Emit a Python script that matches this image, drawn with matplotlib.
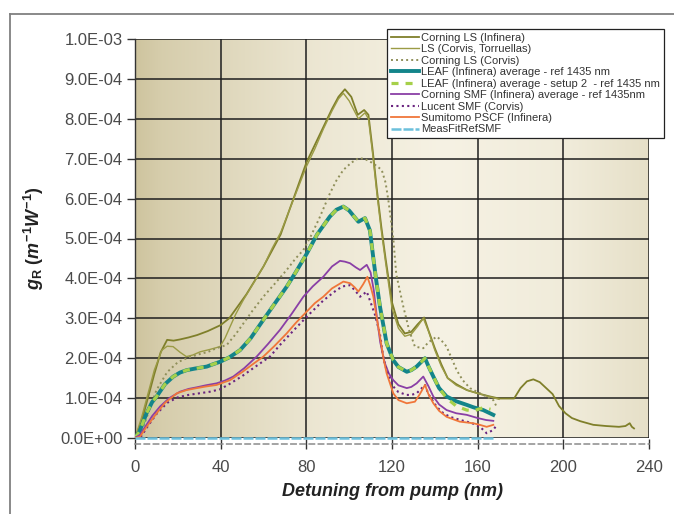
import numpy as np
import matplotlib
matplotlib.use("Agg")
import matplotlib.pyplot as plt
from matplotlib import font_manager
from matplotlib.lines import Line2D
from matplotlib.ticker import FuncFormatter, MultipleLocator

# ---------------- data (gR in units of 1E-4 m^-1 W^-1) ----------------
corning_ls_inf = [(0,0),(3,0.4),(6,1.0),(9,1.6),(12,2.15),(15,2.46),(18,2.44),(21,2.47),(25,2.52),
    (29,2.58),(34,2.68),(40,2.83),(44,3.0),(48,3.3),(52,3.6),(56,3.95),(60,4.3),(64,4.7),(68,5.1),
    (72,5.7),(76,6.3),(80,6.9),(84,7.35),(88,7.8),(92,8.25),(95,8.55),(98,8.74),(101,8.55),(104,8.1),
    (107,8.22),(109,8.1),(111,7.2),(113,6.2),(115,5.3),(117,4.5),(120,3.4),(123,2.85),(126,2.62),
    (129,2.66),(132,2.85),(135,3.02),(137,2.7),(140,2.25),(143,1.85),(146,1.5),(150,1.35),(155,1.2),
    (160,1.12),(165,1.05),(170,0.99),(177,0.99),(180,1.25),(183,1.42),(186,1.47),(189,1.4),(192,1.25),
    (195,1.1),(198,0.8),(201,0.62),(204,0.5),(208,0.42),(214,0.33),(220,0.3),(226,0.28),(229,0.3),
    (231,0.37),(232,0.28),(233,0.24)]
ls_corvis_torruellas = [(0,0),(3,0.5),(6,1.1),(9,1.7),(12.5,2.2),(15,2.3),(17.8,2.29),(21,2.15),(24,2.04),
    (27,2.08),(30.4,2.16),(35,2.22),(39.7,2.29),(42,2.5),(44.4,2.79),(47,3.1),(50.6,3.46),(55,3.85),
    (59.9,4.29),(64,4.75),(68,5.15),(72,5.7),(76,6.25),(80,6.8),(84,7.25),(88,7.75),(92,8.2),(95,8.5),
    (97.3,8.64),(100,8.45),(104.3,8.0),(107.4,8.15),(109,8.0),(111,7.1),(113,6.1),(115,5.2),(117,4.4),
    (120,3.25),(123,2.75),(126,2.55),(129,2.6),(132,2.8),(134.6,3.0),(137,2.68),(140,2.2),(143,1.8),
    (146,1.5),(150,1.32),(155,1.2),(160,1.12),(165,1.04),(170,0.97)]
corning_ls_corvis = [(0,0),(3,0.15),(6,0.6),(10,1.2),(15,1.65),(20,1.9),(25,2.02),(30,2.1),(34.2,2.16),
    (38,2.25),(42.8,2.33),(47,2.6),(51,2.9),(55,3.2),(59.9,3.54),(65,3.85),(70.8,4.21),(75,4.5),
    (78.6,4.71),(82,5.05),(86,5.5),(91,6.13),(94,6.45),(97.3,6.72),(101,6.9),(104.3,7.01),(107,7.0),
    (109.7,6.93),(112,6.85),(115.2,6.72),(117,6.4),(118.3,5.96),(120.6,5.0),(122,4.1),(125.3,3.29),
    (128,2.7),(130.7,2.29),(134.6,2.25),(137,2.4),(140.9,2.54),(143,2.45),(145.5,2.29),(150.2,1.7),
    (153,1.45),(156.4,1.25),(162.6,1.08),(167.3,0.95),(168.9,0.78)]
leaf_inf = [(0,0),(2,0.15),(5.4,0.62),(8,0.9),(10.1,1.04),(14,1.35),(17.9,1.54),(21,1.64),(24.1,1.7),
    (28,1.74),(33.5,1.79),(36,1.84),(39.7,1.91),(44,2.02),(49,2.2),(54,2.5),(59.9,2.96),(65,3.35),
    (70.8,3.79),(75,4.15),(80.2,4.62),(85,5.1),(91,5.55),(94,5.72),(97.3,5.8),(100,5.7),(104.3,5.42),
    (107.4,5.51),(109.7,5.2),(111.3,4.5),(112.5,4.0),(114.4,3.29),(117.5,2.37),(120.6,1.95),(123,1.78),
    (126.9,1.66),(129,1.7),(131.5,1.79),(135.4,2.0),(137,1.8),(139.3,1.54),(142,1.25),(145.5,1.04),
    (150,0.92),(154.9,0.83),(158,0.77),(162.6,0.70),(167.3,0.58)]
leaf_inf_setup2 = [(0,0),(2,0.15),(5.4,0.62),(8,0.9),(10.1,1.04),(14,1.35),(17.9,1.54),(21,1.64),(24.1,1.7),
    (28,1.74),(33.5,1.79),(36,1.84),(39.7,1.91),(44,2.02),(49,2.2),(54,2.5),(59.9,2.96),(65,3.35),
    (70.8,3.79),(75,4.15),(80.2,4.62),(85,5.1),(91,5.55),(94,5.72),(97.3,5.8),(100,5.7),(104.3,5.42),
    (107.4,5.51),(109.7,5.2),(111.3,4.5),(112.5,4.0),(114.4,3.29),(117.5,2.37),(120.6,1.95),(123,1.78),
    (126.9,1.66),(129,1.7),(131.5,1.79),(135.4,2.0),(137,1.8),(139.3,1.54),(142,1.25),(145.5,1.0),
    (150,0.8),(154.9,0.7),(158,0.68),(162.6,0.76),(166,0.72)]
corning_smf_inf = [(0,0),(2.3,0.08),(5,0.3),(8,0.55),(11.7,0.79),(16,1.0),(21,1.16),(25,1.23),(28.8,1.27),
    (33,1.32),(38.1,1.37),(42,1.44),(45.9,1.54),(51,1.75),(56.8,2.04),(62,2.35),(67.7,2.71),(73,3.1),
    (78.6,3.54),(83,3.8),(87.9,4.04),(92,4.3),(95.7,4.44),(98,4.42),(100.4,4.38),(103,4.28),(105.1,4.21),
    (108.2,4.34),(110,4.15),(111.5,3.7),(113,3.0),(114.5,2.4),(116.5,1.9),(118.5,1.62),(120.6,1.45),
    (123,1.32),(126.9,1.25),(129,1.28),(131.5,1.37),(134.6,1.54),(137,1.3),(139.3,1.04),(142,0.84),
    (145.5,0.70),(150,0.62),(154.9,0.58),(160,0.5),(164,0.45),(167.3,0.43)]
lucent_smf_corvis = [(0,0),(3,0.05),(6,0.3),(10,0.6),(15,0.88),(20,1.02),(25,1.08),(30,1.12),(35,1.16),
    (39.7,1.22),(44,1.35),(50,1.55),(56,1.78),(63,2.04),(68,2.35),(75,2.75),(81.7,3.12),(88,3.45),
    (94.2,3.71),(97,3.8),(100.4,3.83),(103,3.68),(105.1,3.54),(108.2,3.67),(110,3.4),(112,3.1),
    (114.4,2.6),(116,2.0),(117.5,1.7),(120.6,1.29),(123,1.15),(126.9,1.08),(129,1.08),(131.5,1.12),
    (135.4,1.33),(137,1.1),(140.9,0.78),(144,0.62),(147.1,0.53),(152,0.45),(157,0.38),(161.1,0.28),
    (164.2,0.12),(167.3,0.2),(168.9,0.33)]
sumitomo_pscf_inf = [(0,0),(2.3,0.03),(5,0.25),(10.1,0.62),(14,0.88),(19.5,1.12),(24,1.2),(28.8,1.25),
    (33,1.29),(38.1,1.33),(44.4,1.45),(50,1.65),(55,1.85),(59.9,2.04),(65,2.3),(70.8,2.62),(75,2.88),
    (80.2,3.17),(84,3.38),(87.9,3.54),(92,3.75),(97.3,3.92),(100.4,3.88),(102.5,3.78),(104.3,3.67),
    (106.5,3.85),(108.5,4.04),(110,3.8),(111.3,3.54),(112.9,3.0),(114.4,2.54),(116,2.0),(117.5,1.62),
    (120.6,1.12),(123,0.95),(126.9,0.87),(130.7,0.91),(133,1.1),(135.4,1.33),(137,1.1),(139.3,0.87),
    (142,0.68),(145.5,0.53),(151.6,0.41),(157.9,0.37),(161,0.33),(164.2,0.28),(167.3,0.33)]
meas_fit_ref_smf = [(0,0),(168,0)]

labels = ["Corning LS (Infinera)", "LS (Corvis, Torruellas)", "Corning LS (Corvis)",
          "LEAF (Infinera) average - ref 1435 nm", "LEAF (Infinera) average - setup 2  - ref 1435 nm",
          "Corning SMF (Infinera) average - ref 1435nm", "Lucent SMF (Corvis)",
          "Sumitomo PSCF (Infinera)", "MeasFitRefSMF"]
series = [corning_ls_inf, ls_corvis_torruellas, corning_ls_corvis, leaf_inf, leaf_inf_setup2,
          corning_smf_inf, lucent_smf_corvis, sumitomo_pscf_inf, meas_fit_ref_smf]
x_ticks = [0, 40, 80, 120, 160, 200, 240]
UNIT = 1e-4

# ---------------- style ----------------
styles = [
    dict(color="#7f7f2a", lw=1.3, ls="-"),
    dict(color="#9b9b45", lw=1.0, ls="-"),
    dict(color="#8f8f5a", lw=1.4, ls=(0, (1, 1.6))),
    dict(color="#13858a", lw=2.8, ls="-"),
    dict(color="#a6d04a", lw=2.3, ls=(0, (2.2, 2.2))),
    dict(color="#8a3fa6", lw=1.3, ls="-"),
    dict(color="#6a2480", lw=1.5, ls=(0, (1, 1.6))),
    dict(color="#f0763a", lw=1.3, ls="-"),
    dict(color="#6cc0dc", lw=1.8, ls=(0, (4, 0.8))),
]

plt.rcParams["font.family"] = ["Liberation Sans", "DejaVu Sans"]
plt.rcParams["mathtext.fontset"] = "custom"
plt.rcParams["mathtext.it"] = "Liberation Sans:italic:bold"
plt.rcParams["mathtext.rm"] = "Liberation Sans:bold"
plt.rcParams["mathtext.bf"] = "Liberation Sans:bold"

def has_font(name):
    try:
        font_manager.findfont(font_manager.FontProperties(family=name), fallback_to_default=False)
        return True
    except Exception:
        return False

legend_family = "Liberation Sans"
legend_size = 8.0
for cand in ["Liberation Sans Narrow", "DejaVu Sans Condensed"]:
    if has_font(cand):
        legend_family = cand
        legend_size = 8.6
        break

fig = plt.figure(figsize=(6.74, 5.14), dpi=100)
fig.patch.set_facecolor("white")
ax = fig.add_axes([135/674, (514-438)/514, (649-135)/674, (438-39)/514])

# background gradient
xs = np.linspace(0, 1, 300)
prof = np.interp(xs, [0, 0.05, 0.35, 0.6, 0.85, 1.0], [0.0, 0.2, 0.75, 1.0, 0.85, 0.6])
c_dark = np.array([206, 196, 158]) / 255
c_light = np.array([246, 242, 228]) / 255
mix = np.clip(prof[None, :].repeat(50, axis=0), 0, 1)
img = c_dark[None, None, :] * (1 - mix[..., None]) + c_light[None, None, :] * mix[..., None]
ax.imshow(img, extent=[0, 240, 0, 1e-3], aspect="auto", zorder=0, origin="lower", interpolation="bilinear")

ax.set_xlim(0, 240)
ax.set_ylim(0, 1e-3)
ax.set_xticks(x_ticks)
ax.yaxis.set_major_locator(MultipleLocator(1e-4))
ax.yaxis.set_major_formatter(FuncFormatter(lambda v, _: f"{v:.1E}"))
ax.grid(True, color="#1e1e1e", lw=1.1, zorder=1)
ax.set_axisbelow(True)

handles = []
for data, lab, st in zip(series, labels, styles):
    xv = np.array([p[0] for p in data])
    yv = np.array([p[1] for p in data]) * UNIT
    h, = ax.plot(xv, yv, color=st["color"], lw=st["lw"], linestyle=st["ls"], label=lab,
                 zorder=3, clip_on=(lab != "MeasFitRefSMF"))
    handles.append(h)

for s in ["top", "right"]:
    ax.spines[s].set_visible(False)
ax.spines["left"].set_color("#333333")
ax.spines["left"].set_linewidth(1.0)
ax.spines["bottom"].set_position(("outward", 4))
ax.spines["bottom"].set_color("#8c8c8c")
ax.spines["bottom"].set_linestyle((0, (3.5, 2.5)))
ax.spines["bottom"].set_linewidth(1.1)

ax.tick_params(axis="y", direction="out", length=6, width=1, color="#333333",
               labelsize=12, labelcolor="#4a4a4a", pad=3)
ax.tick_params(axis="x", direction="inout", length=7, width=1, color="#333333",
               labelsize=12, labelcolor="#4a4a4a", pad=8)

ax.set_xlabel("Detuning from pump (nm)", fontsize=13, fontweight="bold", fontstyle="italic",
              color="#222222", labelpad=6)
ax.set_ylabel(r"$g_{\mathrm{R}}\ (m^{-1}W^{-1})$", fontsize=13, color="#222222", labelpad=10)

leg = fig.legend(handles=handles, labels=labels, loc="upper left",
                 bbox_to_anchor=(387/674, (514-29)/514), bbox_transform=fig.transFigure,
                 borderaxespad=0, frameon=True, fancybox=False, framealpha=1,
                 edgecolor="#222222", facecolor="white",
                 prop=dict(family=[legend_family, "DejaVu Sans"], size=legend_size),
                 handlelength=2.5, handletextpad=0.25, labelspacing=0.13,
                 borderpad=0.35)
leg.get_frame().set_linewidth(0.9)
for t in leg.get_texts():
    t.set_color("#333333")

# outer frame (left and top edges visible in the reference)
fig.add_artist(Line2D([10/674, 10/674], [0, (514-14)/514], transform=fig.transFigure,
                      color="#808080", lw=1.3))
fig.add_artist(Line2D([10/674, 1.0], [(514-14)/514, (514-14)/514], transform=fig.transFigure,
                      color="#808080", lw=1.3))

fig.savefig("out.png", dpi=100)
